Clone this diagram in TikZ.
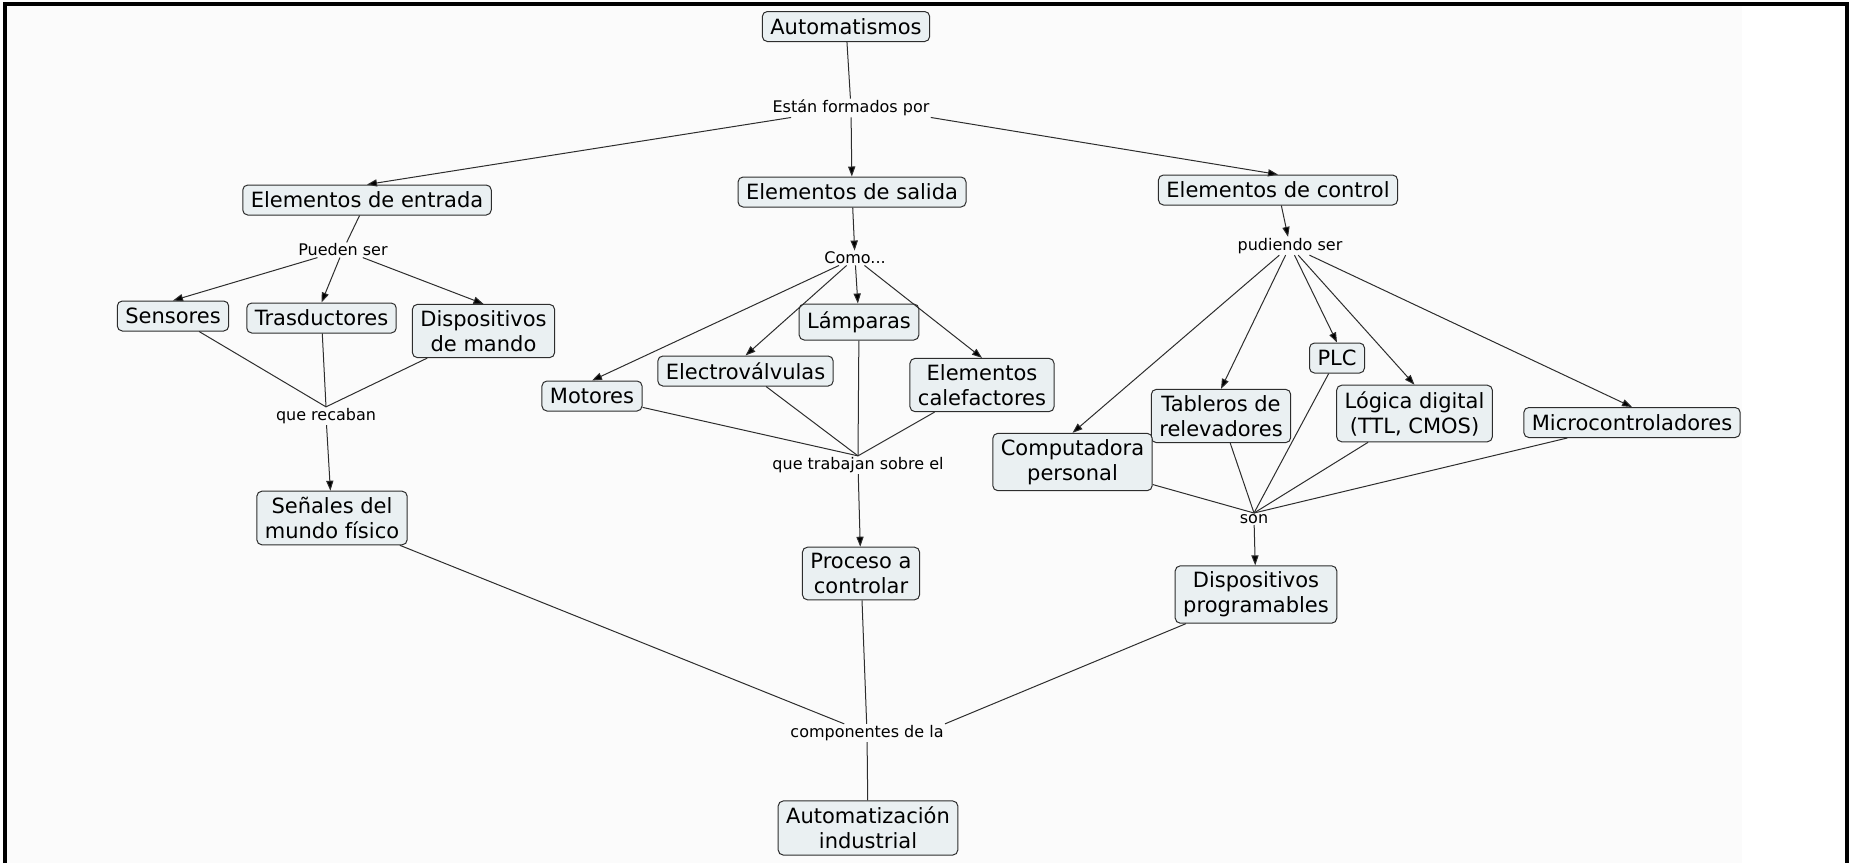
\documentclass[tikz,border=0pt]{standalone}
\usepackage{fontspec}
\setmainfont{DejaVu Sans}
\usetikzlibrary{arrows.meta}
\definecolor{conceptfill}{RGB}{234,240,242}
\definecolor{linkgray}{RGB}{45,45,45}
\tikzset{
  concept/.style={draw=linkgray, fill=conceptfill, rounded corners=2.5pt, line width=0.5pt,
    inner xsep=4pt, inner ysep=3pt, minimum height=15pt, align=center,
    font=\fontsize{10.5}{12.5}\selectfont},
  linkphrase/.style={inner sep=0.5pt, font=\fontsize{8}{9.6}\selectfont},
  conn/.style={draw=linkgray, line width=0.5pt},
  arr/.style={conn, -{Triangle[length=5pt,width=3.6pt,fill=black]}}
}
\begin{document}
\begin{tikzpicture}[x=0.5pt,y=0.5pt,yscale=-1]
	\useasboundingbox (0,0) rectangle (1852,863);
	\fill[black!1.5] (5,4) rectangle (1742,863);
	\draw[line width=2pt] (5,863) -- (5,4) -- (1847,4) -- (1847,863);

	\node[concept] (auto) at (846,26.5) {Automatismos};
	\node[linkphrase] (estan) at (851,108) {Están formados por};
	\node[concept] (entrada) at (367,200) {Elementos de entrada};
	\node[concept] (salida) at (852,192) {Elementos de salida};
	\node[concept] (control) at (1278,190) {Elementos de control};

	\node[linkphrase] (pueden) at (343,250) {Pueden ser};
	\node[concept] (sensores) at (173,316) {Sensores};
	\node[concept] (trasd) at (321.5,318) {Trasductores};
	\node[concept] (dmando) at (483.5,331) {Dispositivos\\de mando};
	\node[linkphrase] (recaban) at (326,416) {que recaban};
	\node[concept] (senales) at (332,518) {Señales del\\mundo físico};

	\node[linkphrase] (como) at (855,258) {Como...};
	\node[concept, minimum height=18pt] (lamparas) at (859,322) {Lámparas};
	\node[concept] (electro) at (745.5,371) {Electroválvulas};
	\node[concept] (motores) at (592,396) {Motores};
	\node[concept] (calef) at (982,385) {Elementos\\calefactores};
	\node[linkphrase] (trabajan) at (858,465) {que trabajan sobre el};
	\node[concept] (proceso) at (861,573.5) {Proceso a\\controlar};

	\node[linkphrase] (pudiendo) at (1290,246) {pudiendo ser};
	\node[concept] (plc) at (1337,358) {PLC};
	\node[concept] (tableros) at (1221,416) {Tableros de\\relevadores};
	\node[concept] (logica) at (1414.5,413.5) {Lógica digital\\(TTL, CMOS)};
	\node[concept] (micro) at (1632,422.5) {Microcontroladores};
	\node[concept] (comp) at (1072.5,462) {Computadora\\personal};
	\node[linkphrase] (son) at (1254,519) {son};
	\node[concept] (dprog) at (1256,594.5) {Dispositivos\\programables};

	\node[linkphrase] (compo) at (867,733) {componentes de la};
	\node[concept] (autoind) at (868,828) {Automatización\\industrial};

	\draw[conn] (auto) -- (estan);
	\draw[arr] (estan) -- (entrada.north);
	\draw[arr] (estan) -- (salida);
	\draw[arr] (estan.south east) -- (control.north);

	\draw[conn] (entrada) -- (pueden);
	\draw[arr] (pueden) -- (sensores.north);
	\draw[arr] (pueden) -- (trasd.north);
	\draw[arr] (pueden) -- (dmando.north);
	\draw[conn] (sensores) -- (recaban.north);
	\draw[conn] (trasd) -- (recaban.north);
	\draw[conn] (dmando) -- (recaban.north);
	\draw[arr] (recaban) -- (senales);

	\draw[arr] (salida) -- (como);
	\draw[arr] (como) -- (motores.north);
	\draw[arr] (como) -- (electro.north);
	\draw[arr] (como) -- (lamparas);
	\draw[arr] (como) -- (calef.north);
	\draw[conn] (motores) -- (trabajan.north);
	\draw[conn] (electro) -- (trabajan.north);
	\draw[conn] (lamparas) -- (trabajan.north);
	\draw[conn] (calef) -- (trabajan.north);
	\draw[arr] (trabajan) -- (proceso);

	\draw[arr] (control) -- (pudiendo);
	\draw[arr] (pudiendo) -- (comp.north);
	\draw[arr] (pudiendo) -- (tableros.north);
	\draw[arr] (pudiendo) -- (plc.north);
	\draw[arr] (pudiendo) -- (logica.north);
	\draw[arr] (pudiendo) -- (micro.north);
	\draw[conn] (comp) -- (son.north);
	\draw[conn] (tableros) -- (son.north);
	\draw[conn] (plc) -- (son.north);
	\draw[conn] (logica) -- (son.north);
	\draw[conn] (micro) -- (son.north);
	\draw[arr] (son) -- (dprog);

	\draw[conn] (senales) -- (compo);
	\draw[conn] (proceso) -- (compo);
	\draw[conn] (dprog) -- (compo.north east);
	\draw[conn] (compo) -- (autoind);
\end{tikzpicture}
\end{document}
